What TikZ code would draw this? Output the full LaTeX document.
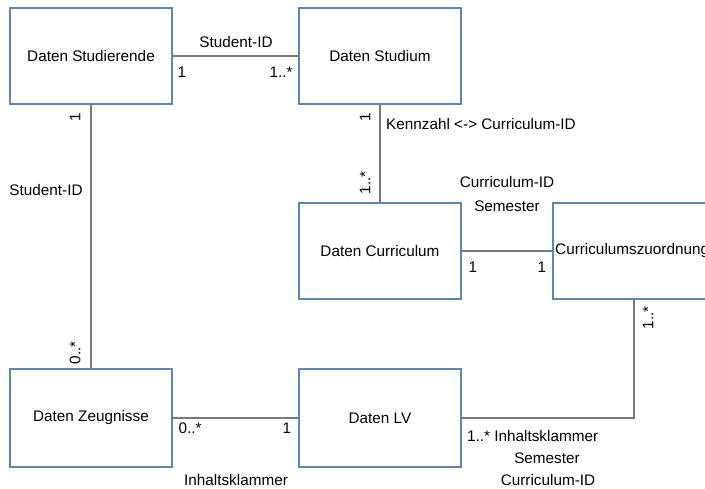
\documentclass[tikz,border=0pt]{standalone}
\usepackage{fontspec}
\setmainfont{Liberation Sans}
\definecolor{boxblue}{HTML}{5A86BC}
\definecolor{linegray}{HTML}{7A7A7A}
\begin{document}
\begin{tikzpicture}[x=1pt,y=-1pt,
  entity/.style={draw=boxblue,line width=1.4pt,fill=white,minimum width=162pt,minimum height=96pt,inner sep=0pt,font=\fontsize{15.3}{17}\selectfont},
  conn/.style={draw=linegray,line width=1.3pt},
  lbl/.style={inner sep=0pt,font=\fontsize{15.3}{17}\selectfont}]
\useasboundingbox (0,0) rectangle (705,489);
\clip (0,0) rectangle (705,489);
\node[entity] (stud) at (91,56) {Daten Studierende};
\node[entity] (studium) at (380,56) {Daten Studium};
\node[entity,minimum height=96pt] (curr) at (380,251) {Daten Curriculum};
\node[entity,minimum height=96pt,minimum width=175pt] (zuo) at (640.5,251) {};
\node[lbl,anchor=west] (zuotext) at (555,251) {Curriculumszuordnung};
\node[entity,minimum height=98pt] (zeug) at (91,418) {Daten Zeugnisse};
\node[entity,minimum height=98pt] (lv) at (380,418) {Daten LV};
\coordinate (bend) at (634,418);
\draw[conn] (stud.east) -- (studium.west);
\draw[conn] (stud.south) -- (zeug.north);
\draw[conn] (studium.south) -- (curr.north);
\draw[conn] (curr.east) -- (zuo.west);
\draw[conn] (zeug.east) -- (lv.west);
\draw[conn] (lv.east) -- (bend) -- (bend |- zuo.south);
% labels
\node[lbl] (l1) at (236,42) {Student-ID};
\node[lbl] (l2) at (182,72) {1};
\node[lbl] (l3) at (281,72) {1..*};
\node[lbl,rotate=90] (l4) at (75,117) {1};
\node[lbl] (l5) at (46,190) {Student-ID};
\node[lbl,rotate=90] (l6) at (75,353) {0..*};
\node[lbl,rotate=90] (l7) at (365,117) {1};
\node[lbl,rotate=90] (l8) at (365,183) {1..*};
\node[lbl,anchor=west] (l9) at (386,124) {Kennzahl <-> Curriculum-ID};
\node[lbl] (l10) at (507,182) {Curriculum-ID};
\node[lbl] (l11) at (507,206) {Semester};
\node[lbl] (l12) at (473,267) {1};
\node[lbl] (l13) at (542,267) {1};
\node[lbl,rotate=90] (l14) at (648,318) {1..*};
\node[lbl] (l15) at (190,428) {0..*};
\node[lbl] (l16) at (287,428) {1};
\node[lbl] (l17) at (236,480.5) {Inhaltsklammer};
\node[lbl,anchor=west] (l18) at (467,436) {1..* Inhaltsklammer};
\node[lbl] (l19) at (547,458) {Semester};
\node[lbl] (l20) at (548,480.5) {Curriculum-ID};
\end{tikzpicture}
\end{document}
